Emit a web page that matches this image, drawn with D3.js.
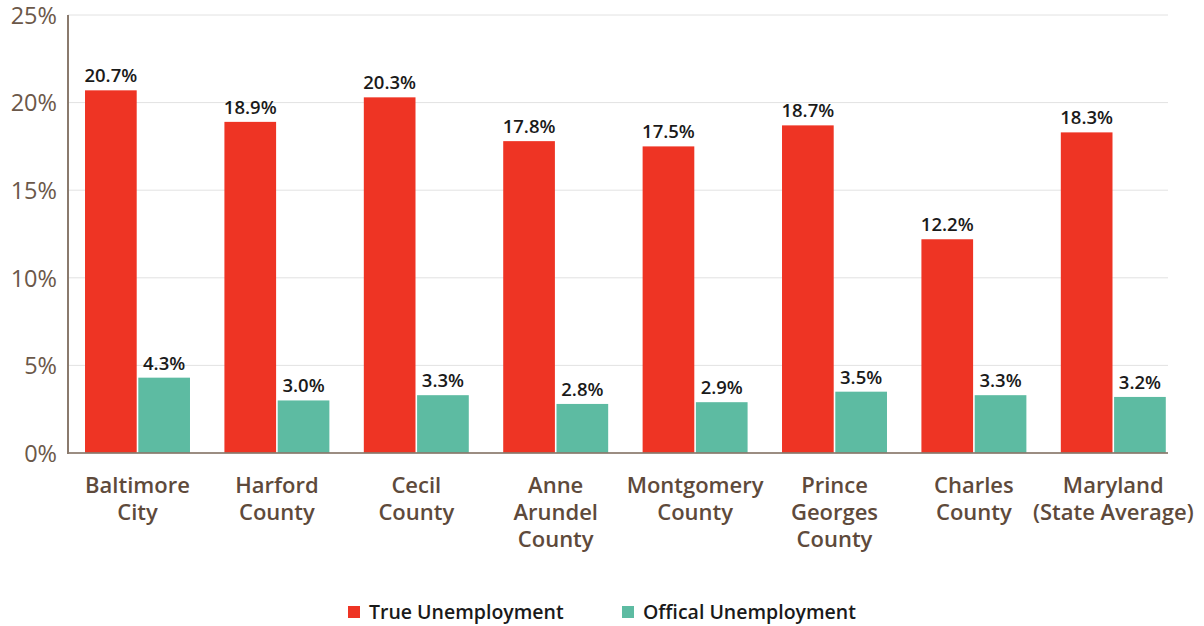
<!DOCTYPE html>
<html>
<head>
<meta charset="utf-8">
<script src="https://cdn.jsdelivr.net/npm/d3@7"></script>
<style>
  html, body { margin: 0; padding: 0; background: #fff; }
  svg { display: block; font-family: "Open Sans", "Noto Sans", sans-serif; }
</style>
</head>
<body>
<svg id="chart" width="1204" height="626"></svg>
<script>
// Unemployment rates by Maryland jurisdiction (percent)
const categories = [
  "Baltimore\nCity",
  "Harford\nCounty",
  "Cecil\nCounty",
  "Anne\nArundel\nCounty",
  "Montgomery\nCounty",
  "Prince\nGeorges\nCounty",
  "Charles\nCounty",
  "Maryland\n(State Average)"
];
const seriesNames = ["True Unemployment", "Offical Unemployment"];
const trueUnemployment = [20.7, 18.9, 20.3, 17.8, 17.5, 18.7, 12.2, 18.3];
const officialUnemployment = [4.3, 3.0, 3.3, 2.8, 2.9, 3.5, 3.3, 3.2];
const yTicks = [0, 5, 10, 15, 20, 25];

const colors = ["#ee3424", "#5dbba2"];

const svg = d3.select("#chart");
const plot = { left: 68, right: 1168, top: 15, bottom: 453 };

const rows = categories.map((c, i) => ({
  category: c,
  values: [trueUnemployment[i], officialUnemployment[i]]
}));

const x0 = d3.scaleBand()
  .domain(categories)
  .range([67.8, 1183])
  .paddingInner(0.247)
  .paddingOuter(0.1235);

const x1 = d3.scaleBand()
  .domain([0, 1])
  .range([0, x0.bandwidth()])
  .paddingInner(0.03);

const y = d3.scaleLinear().domain([0, 25]).range([plot.bottom, plot.top]);

// horizontal gridlines
svg.append("g")
  .selectAll("line")
  .data(yTicks.filter(t => t > 0))
  .join("line")
  .attr("x1", plot.left).attr("x2", plot.right)
  .attr("y1", d => y(d)).attr("y2", d => y(d))
  .attr("stroke", "#e2e2e2").attr("stroke-width", 1);

// y axis tick labels
const yAxis = d3.axisLeft(y).tickValues(yTicks).tickFormat(d => d + "%").tickSize(0).tickPadding(11);
const gy = svg.append("g").attr("transform", `translate(${plot.left},0)`).call(yAxis);
gy.select(".domain").remove();
gy.selectAll("text")
  .attr("font-size", 23.5)
  .attr("font-family", "'Open Sans', sans-serif")
  .attr("fill", "#6b5849")
  .attr("dy", "0.35em");

// bars
const groups = svg.append("g")
  .selectAll("g")
  .data(rows)
  .join("g")
  .attr("transform", d => `translate(${x0(d.category)},0)`);

groups.selectAll("rect")
  .data(d => d.values.map((v, k) => ({ v, k })))
  .join("rect")
  .attr("x", d => x1(d.k))
  .attr("width", x1.bandwidth())
  .attr("y", d => y(d.v))
  .attr("height", d => y(0) - y(d.v))
  .attr("fill", d => colors[d.k]);

// value labels
groups.selectAll("text.val")
  .data(d => d.values.map((v, k) => ({ v, k })))
  .join("text")
  .attr("class", "val")
  .attr("x", d => x1(d.k) + x1.bandwidth() / 2)
  .attr("y", d => y(d.v) - 8)
  .attr("text-anchor", "middle")
  .attr("font-size", 18.5)
  .attr("font-weight", 600)
  .attr("fill", "#1a1a1a")
  .text(d => d.v.toFixed(1) + "%");

// axis lines
svg.append("line")
  .attr("x1", plot.left).attr("x2", plot.left)
  .attr("y1", plot.top).attr("y2", plot.bottom + 1)
  .attr("stroke", "#8a7a6d").attr("stroke-width", 2);
svg.append("line")
  .attr("x1", plot.left).attr("x2", plot.right)
  .attr("y1", plot.bottom).attr("y2", plot.bottom)
  .attr("stroke", "#8a7a6d").attr("stroke-width", 2)
  .attr("opacity", 0.85);

// category labels
const catLabels = svg.append("g")
  .selectAll("text")
  .data(categories)
  .join("text")
  .attr("x", d => x0(d) + x0.bandwidth() / 2)
  .attr("y", 493)
  .attr("text-anchor", "middle")
  .attr("font-size", 22)
  .attr("font-weight", 600)
  .attr("fill", "#5e4a3b");
catLabels.selectAll("tspan")
  .data(d => d.split("\n"))
  .join("tspan")
  .attr("x", function () { return d3.select(this.parentNode).attr("x"); })
  .attr("dy", (d, i) => i === 0 ? 0 : 27)
  .text(d => d);

// legend
const legendItems = [{ x: 348 }, { x: 622 }];
const legend = svg.append("g")
  .selectAll("g")
  .data(seriesNames)
  .join("g")
  .attr("transform", (d, i) => `translate(${legendItems[i].x},606)`);
legend.append("rect")
  .attr("width", 12).attr("height", 12)
  .attr("fill", (d, i) => colors[i]);
legend.append("text")
  .attr("x", 21).attr("y", 12.5)
  .attr("font-size", 19.5)
  .attr("font-weight", 600)
  .attr("fill", "#1a1a1a")
  .text(d => d);
</script>
</body>
</html>
